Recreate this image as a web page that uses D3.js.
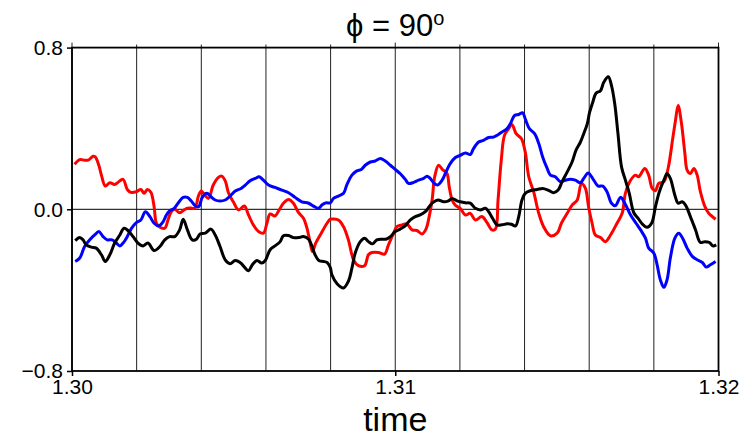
<!DOCTYPE html>
<html>
<head>
<meta charset="utf-8">
<script src="https://cdn.jsdelivr.net/npm/d3@7"></script>
<style>
  body { margin: 0; background: #fff; }
  text { font-family: "Liberation Sans", Arial, "DejaVu Sans", sans-serif; }
</style>
</head>
<body>
<div id="chart"></div>
<script>
// time series: [time, value]
let red = [
  [1.30008,0.223],[1.30024,0.246],[1.30039,0.243],[1.30050,0.243],[1.30065,0.262],[1.30072,0.259],[1.30083,0.218],[1.30091,0.169],
  [1.30103,0.115],[1.30117,0.131],[1.30132,0.123],[1.30142,0.133],[1.30158,0.148],[1.30171,0.098],[1.30182,0.084],[1.30199,0.087],
  [1.30213,0.098],[1.30223,0.079],[1.30233,0.098],[1.30244,0.084],[1.30254,0.013],[1.30261,-0.069],[1.30272,-0.089],[1.30287,-0.094],
  [1.30297,-0.053],[1.30307,-0.012],[1.30318,0.000],[1.30333,-0.017],[1.30347,-0.003],[1.30357,0.005],[1.30369,0.006],[1.30380,0.005],
  [1.30392,0.070],[1.30400,0.090],[1.30407,0.079],[1.30422,0.054],[1.30437,0.120],[1.30453,0.158],[1.30463,0.164],[1.30474,0.141],
  [1.30484,0.082],[1.30499,0.037],[1.30515,-0.003],[1.30533,0.016],[1.30546,-0.028],[1.30561,-0.077],[1.30577,-0.110],[1.30592,-0.118],
  [1.30603,-0.069],[1.30613,-0.023],[1.30628,-0.033],[1.30641,-0.003],[1.30654,0.030],[1.30670,0.049],[1.30685,0.030],[1.30701,-0.017],
  [1.30716,-0.044],[1.30727,-0.094],[1.30737,-0.167],[1.30744,-0.209],[1.30754,-0.167],[1.30768,-0.127],[1.30789,-0.069],[1.30799,-0.049],
  [1.30809,-0.048],[1.30824,-0.053],[1.30840,-0.086],[1.30855,-0.151],[1.30871,-0.250],[1.30886,-0.279],[1.30905,-0.279],[1.30917,-0.225],
  [1.30928,-0.214],[1.30948,-0.214],[1.30967,-0.222],[1.30979,-0.176],[1.30995,-0.118],[1.31005,-0.086],[1.31021,-0.077],[1.31036,-0.072],
  [1.31052,-0.102],[1.31067,-0.105],[1.31083,-0.122],[1.31095,-0.098],[1.31105,-0.036],[1.31114,0.046],[1.31122,0.161],[1.31134,0.218],
  [1.31146,0.197],[1.31160,0.177],[1.31167,0.111],[1.31176,0.046],[1.31186,0.020],[1.31201,0.005],[1.31217,-0.028],[1.31232,-0.020],
  [1.31248,-0.053],[1.31268,-0.036],[1.31284,-0.066],[1.31299,-0.102],[1.31310,-0.098],[1.31318,0.046],[1.31328,0.243],[1.31338,0.366],
  [1.31351,0.399],[1.31361,0.420],[1.31374,0.374],[1.31390,0.350],[1.31402,0.284],[1.31413,0.161],[1.31428,0.087],[1.31444,-0.020],
  [1.31459,-0.086],[1.31480,-0.131],[1.31501,-0.118],[1.31514,-0.069],[1.31532,-0.020],[1.31547,0.021],[1.31563,0.046],[1.31576,0.128],
  [1.31588,0.105],[1.31598,0.013],[1.31609,-0.069],[1.31619,-0.127],[1.31635,-0.140],[1.31650,-0.160],[1.31666,-0.127],[1.31686,-0.069],
  [1.31702,-0.020],[1.31712,0.079],[1.31728,0.144],[1.31743,0.169],[1.31753,0.161],[1.31772,0.202],[1.31784,0.169],[1.31795,0.103],
  [1.31805,0.092],[1.31815,0.128],[1.31831,0.136],[1.31844,0.202],[1.31859,0.357],[1.31867,0.440],[1.31875,0.514],[1.31885,0.431],
  [1.31896,0.276],[1.31903,0.194],[1.31913,0.177],[1.31924,0.202],[1.31934,0.169],[1.31944,0.087],[1.31958,0.013],[1.31970,-0.020],
  [1.31981,-0.036],[1.31991,-0.049]
];

let blue = [
  [1.30010,-0.258],[1.30024,-0.241],[1.30039,-0.184],[1.30055,-0.151],[1.30070,-0.127],[1.30083,-0.110],[1.30096,-0.135],[1.30109,-0.151],
  [1.30124,-0.151],[1.30137,-0.167],[1.30148,-0.181],[1.30158,-0.167],[1.30171,-0.135],[1.30184,-0.094],[1.30199,-0.066],[1.30213,-0.053],
  [1.30227,-0.012],[1.30241,-0.036],[1.30254,-0.069],[1.30268,-0.082],[1.30282,-0.061],[1.30292,-0.028],[1.30302,-0.008],[1.30316,0.005],
  [1.30328,0.030],[1.30344,0.059],[1.30357,0.059],[1.30369,0.041],[1.30382,0.016],[1.30392,0.013],[1.30403,0.059],[1.30417,0.079],
  [1.30430,0.062],[1.30443,0.046],[1.30458,0.041],[1.30474,0.046],[1.30489,0.065],[1.30505,0.090],[1.30523,0.103],[1.30536,0.120],
  [1.30551,0.141],[1.30567,0.153],[1.30579,0.161],[1.30592,0.144],[1.30608,0.120],[1.30628,0.108],[1.30649,0.095],[1.30670,0.082],
  [1.30690,0.059],[1.30711,0.037],[1.30732,0.030],[1.30750,0.013],[1.30763,0.005],[1.30773,0.021],[1.30785,0.032],[1.30799,0.032],
  [1.30809,0.054],[1.30824,0.065],[1.30840,0.079],[1.30850,0.120],[1.30866,0.169],[1.30881,0.190],[1.30895,0.197],[1.30907,0.218],
  [1.30923,0.234],[1.30938,0.239],[1.30954,0.251],[1.30969,0.239],[1.30985,0.218],[1.31000,0.197],[1.31015,0.177],[1.31031,0.148],
  [1.31041,0.128],[1.31057,0.133],[1.31072,0.144],[1.31088,0.153],[1.31098,0.164],[1.31108,0.153],[1.31119,0.131],[1.31131,0.120],
  [1.31145,0.144],[1.31157,0.185],[1.31170,0.226],[1.31186,0.256],[1.31201,0.267],[1.31217,0.279],[1.31232,0.271],[1.31242,0.300],
  [1.31258,0.333],[1.31273,0.341],[1.31289,0.355],[1.31304,0.357],[1.31318,0.369],[1.31330,0.382],[1.31346,0.399],[1.31356,0.423],
  [1.31369,0.464],[1.31382,0.469],[1.31394,0.478],[1.31402,0.448],[1.31415,0.399],[1.31431,0.374],[1.31444,0.325],[1.31456,0.259],
  [1.31470,0.202],[1.31480,0.169],[1.31495,0.161],[1.31511,0.136],[1.31526,0.144],[1.31542,0.149],[1.31557,0.144],[1.31573,0.131],
  [1.31583,0.153],[1.31597,0.180],[1.31614,0.144],[1.31628,0.115],[1.31642,0.115],[1.31655,0.087],[1.31669,0.030],[1.31681,0.018],
  [1.31697,0.059],[1.31710,0.030],[1.31728,-0.028],[1.31745,-0.069],[1.31759,-0.102],[1.31774,-0.143],[1.31784,-0.192],[1.31800,-0.217],
  [1.31810,-0.274],[1.31820,-0.348],[1.31831,-0.386],[1.31841,-0.348],[1.31851,-0.241],[1.31865,-0.143],[1.31877,-0.118],[1.31889,-0.143],
  [1.31903,-0.192],[1.31919,-0.233],[1.31934,-0.250],[1.31950,-0.263],[1.31962,-0.286],[1.31975,-0.274],[1.31991,-0.258]
];

let black = [
  [1.30010,-0.155],[1.30024,-0.140],[1.30034,-0.151],[1.30044,-0.176],[1.30060,-0.187],[1.30075,-0.192],[1.30091,-0.225],[1.30103,-0.258],
  [1.30117,-0.225],[1.30132,-0.167],[1.30148,-0.127],[1.30161,-0.094],[1.30173,-0.105],[1.30189,-0.135],[1.30204,-0.167],[1.30220,-0.181],
  [1.30235,-0.167],[1.30254,-0.204],[1.30272,-0.184],[1.30287,-0.151],[1.30302,-0.135],[1.30318,-0.135],[1.30333,-0.102],[1.30344,-0.049],
  [1.30357,-0.102],[1.30372,-0.151],[1.30385,-0.148],[1.30396,-0.122],[1.30412,-0.118],[1.30430,-0.098],[1.30443,-0.127],[1.30458,-0.184],
  [1.30474,-0.250],[1.30489,-0.269],[1.30505,-0.253],[1.30520,-0.263],[1.30536,-0.291],[1.30546,-0.304],[1.30558,-0.274],[1.30572,-0.253],
  [1.30587,-0.266],[1.30598,-0.253],[1.30613,-0.200],[1.30628,-0.181],[1.30644,-0.160],[1.30654,-0.131],[1.30670,-0.130],[1.30685,-0.140],
  [1.30701,-0.140],[1.30716,-0.135],[1.30732,-0.148],[1.30742,-0.181],[1.30752,-0.225],[1.30765,-0.255],[1.30778,-0.258],[1.30789,-0.263],
  [1.30799,-0.288],[1.30804,-0.324],[1.30820,-0.368],[1.30840,-0.389],[1.30855,-0.356],[1.30866,-0.291],[1.30876,-0.217],[1.30892,-0.160],
  [1.30905,-0.143],[1.30917,-0.160],[1.30930,-0.171],[1.30943,-0.151],[1.30959,-0.148],[1.30971,-0.148],[1.30985,-0.135],[1.31000,-0.110],
  [1.31015,-0.098],[1.31031,-0.082],[1.31046,-0.053],[1.31062,-0.036],[1.31077,-0.028],[1.31093,-0.012],[1.31105,0.013],[1.31115,0.032],
  [1.31132,0.046],[1.31150,0.037],[1.31165,0.042],[1.31176,0.054],[1.31191,0.042],[1.31201,0.037],[1.31217,0.032],[1.31232,0.030],
  [1.31248,0.005],[1.31263,-0.003],[1.31279,0.005],[1.31289,-0.012],[1.31301,-0.044],[1.31315,-0.077],[1.31330,-0.077],[1.31346,-0.072],
  [1.31359,-0.074],[1.31372,-0.082],[1.31382,-0.036],[1.31392,0.046],[1.31402,0.079],[1.31418,0.092],[1.31439,0.098],[1.31456,0.103],
  [1.31473,0.095],[1.31490,0.082],[1.31504,0.095],[1.31516,0.136],[1.31532,0.185],[1.31547,0.234],[1.31559,0.292],[1.31573,0.333],
  [1.31583,0.374],[1.31594,0.423],[1.31601,0.478],[1.31611,0.530],[1.31621,0.574],[1.31635,0.587],[1.31645,0.628],[1.31659,0.656],
  [1.31669,0.612],[1.31679,0.522],[1.31689,0.374],[1.31700,0.210],[1.31712,0.144],[1.31724,0.079],[1.31738,-0.017],[1.31751,-0.044],
  [1.31764,-0.072],[1.31779,-0.089],[1.31793,-0.069],[1.31805,0.013],[1.31817,0.087],[1.31831,0.144],[1.31841,0.177],[1.31851,0.153],
  [1.31865,0.070],[1.31875,0.030],[1.31888,0.037],[1.31898,0.021],[1.31913,-0.036],[1.31929,-0.102],[1.31944,-0.164],[1.31958,-0.160],
  [1.31972,-0.164],[1.31982,-0.181],[1.31993,-0.176]
];

let xTicks = [1.30, 1.31, 1.32];
let xGrid = [1.300, 1.302, 1.304, 1.306, 1.308, 1.310, 1.312, 1.314, 1.316, 1.318, 1.320];
let yTicks = [-0.8, 0.0, 0.8];

////////////////////////////////////////////////////////////////////////
// layout

let width = 744;
let height = 440;
let margin = ({top: 47.6, right: 25.5, bottom: 69, left: 72});

let svg = d3.select("#chart")
  .append("svg")
  .attr("width", width).attr("height", height);

let xScale = d3.scaleLinear()
  .domain([1.30, 1.32])
  .range([margin.left, width - margin.right]);
let yScale = d3.scaleLinear()
  .domain([-0.8, 0.8])
  .range([height - margin.bottom, margin.top]);

// vertical grid lines (poke a little above the frame)
svg.append("g")
  .selectAll("line")
  .data(xGrid).enter()
  .append("line")
  .attr("x1", d => xScale(d)).attr("x2", d => xScale(d))
  .attr("y1", d => yScale(0.8) - (xTicks.some(t => Math.abs(t - d) < 1e-9) ? 5 : 3))
  .attr("y2", yScale(-0.8))
  .attr("stroke", "#222")
  .attr("stroke-width", 1);

// zero line
svg.append("line")
  .attr("x1", xScale(1.30)).attr("x2", xScale(1.32))
  .attr("y1", yScale(0)).attr("y2", yScale(0))
  .attr("stroke", "#000").attr("stroke-width", 1);

// frame
svg.append("rect")
  .attr("x", xScale(1.30)).attr("y", yScale(0.8))
  .attr("width", xScale(1.32) - xScale(1.30))
  .attr("height", yScale(-0.8) - yScale(0.8))
  .attr("fill", "none").attr("stroke", "#000").attr("stroke-width", 1.8);

// axes
let fmtY = d => d === 0 ? "0.0" : (d < 0 ? "\u2212" : "") + Math.abs(d).toFixed(1);

svg.append("g")
  .attr("transform", `translate(${margin.left},0)`)
  .call(d3.axisLeft(yScale).tickValues(yTicks).tickSize(5).tickPadding(4).tickFormat(fmtY))
  .call(g => g.select(".domain").remove())
  .call(g => g.selectAll("line").attr("stroke-width", 1.5))
  .call(g => g.selectAll("text").attr("font-size", 21).attr("fill", "#000")
    .attr("font-family", "'Liberation Sans', Arial, sans-serif"));

svg.append("g")
  .attr("transform", `translate(0,${height - margin.bottom})`)
  .call(d3.axisBottom(xScale).tickValues(xTicks).tickSize(5).tickPadding(3).tickFormat(d3.format(".2f")))
  .call(g => g.select(".domain").remove())
  .call(g => g.selectAll("line").attr("stroke-width", 1.5))
  .call(g => g.selectAll("text").attr("font-size", 21).attr("fill", "#000")
    .attr("font-family", "'Liberation Sans', Arial, sans-serif"));

// series
let line = d3.line()
  .x(d => xScale(d[0]))
  .y(d => yScale(d[1]))
  .curve(d3.curveCatmullRom.alpha(0.5));

let series = [
  {data: red, color: "#ff0000"},
  {data: blue, color: "#0000ff"},
  {data: black, color: "#000000"}
];

svg.append("g")
  .selectAll("path")
  .data(series).enter()
  .append("path")
  .attr("d", d => line(d.data))
  .attr("fill", "none")
  .attr("stroke", d => d.color)
  .attr("stroke-width", 3)
  .attr("stroke-linejoin", "round");

// title and axis label
let title = svg.append("text")
  .attr("x", xScale(1.31)).attr("y", 36)
  .attr("text-anchor", "middle")
  .attr("font-size", 31);
title.append("tspan").text("\u03d5 = 90");
title.append("tspan").attr("font-size", 20).attr("dy", -11).text("o");

svg.append("text")
  .attr("x", xScale(1.31)).attr("y", 431)
  .attr("text-anchor", "middle")
  .attr("font-size", 34)
  .text("time");
</script>
</body>
</html>
